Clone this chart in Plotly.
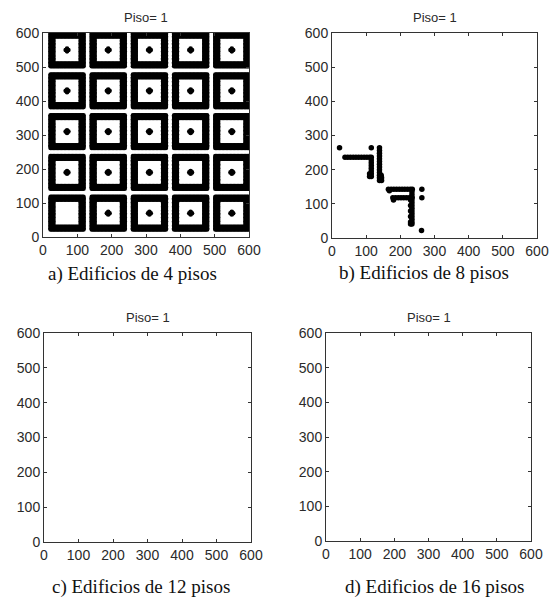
import numpy as np
import plotly.graph_objects as go

# ---------------- data ----------------
# Panel a) block (manzana) centres, ring extents and the lattice step of the dots
block_centers_x = [70, 190, 310, 430, 550]
block_centers_y = [70, 190, 310, 430, 550]
ring_outer = 48          # outer half-size of each block ring (data units)
ring_inner = 38          # inner half-size (points closer than this are empty)
lattice_step = 4
blocks_without_center = [(70, 70)]
center_dot_offsets = [(0, 0), (4, 0), (-4, 0), (0, 4), (0, -4)]

# Panel b) building points
b_x = [22, 115, 139,
       38, 46, 54, 62, 70, 78, 86, 94, 102, 110, 115,
       115, 115, 115, 115, 115, 115, 115, 110, 110,
       139, 139, 139, 139, 139, 139, 139, 139, 139, 139, 139, 139, 145, 145, 144,
       165, 173, 181, 189, 197, 205, 213, 221, 229, 235, 168,
       178, 186, 194, 202, 210, 218, 226, 234, 180,
       234, 234, 234, 234, 234, 234, 234, 234, 234, 234, 234, 234, 234,
       230, 230, 230, 230, 230, 230,
       263, 263, 262]
b_y = [264, 264, 264,
       236, 236, 236, 236, 236, 236, 236, 236, 236, 236, 236,
       228, 220, 212, 204, 196, 188, 180, 188, 180,
       256, 248, 240, 232, 224, 216, 208, 200, 192, 184, 176, 168, 176, 168, 184,
       143, 143, 143, 143, 143, 143, 143, 143, 143, 143, 138,
       118, 118, 118, 118, 118, 118, 118, 118, 111,
       135, 127, 119, 111, 103, 95, 87, 79, 71, 63, 55, 47, 41,
       111, 95, 79, 63, 47, 41,
       143, 118, 22]

panel_titles = ["Piso= 1", "Piso= 1", "Piso= 1", "Piso= 1"]
captions = ["a) Edificios de 4 pisos", "b) Edificios de 8 pisos",
            "c) Edificios de 12 pisos", "d) Edificios de 16 pisos"]
tick_vals = [0, 100, 200, 300, 400, 500, 600]
axis_range = [0, 600]

# ---------------- build panel a points ----------------
a_x, a_y = [], []
offs = np.arange(-ring_outer, ring_outer + 1, lattice_step)
for cx in block_centers_x:
    for cy in block_centers_y:
        for dx in offs:
            for dy in offs:
                if max(abs(dx), abs(dy)) >= ring_inner:
                    a_x.append(cx + dx)
                    a_y.append(cy + dy)
        if (cx, cy) not in blocks_without_center:
            for dx, dy in center_dot_offsets:
                a_x.append(cx + dx)
                a_y.append(cy + dy)

# ---------------- figure ----------------
W, H = 556, 599
fig = go.Figure()

# plot areas in page pixels (left, top, right, bottom)
areas = [(43, 33, 249, 237), (332, 33, 537, 238),
         (44, 333, 251, 542), (326, 333, 531, 541)]


def px_x(v):
    return v / W


def px_y(v):
    return 1 - v / H


marker = dict(color="black", size=4.6, symbol="circle", line=dict(width=0))
fig.add_trace(go.Scatter(x=a_x, y=a_y, mode="markers", marker=marker,
                         xaxis="x", yaxis="y", showlegend=False, hoverinfo="skip"))
fig.add_trace(go.Scatter(x=b_x, y=b_y, mode="markers",
                         marker=dict(color="black", size=5.5, line=dict(width=0)),
                         xaxis="x2", yaxis="y2", showlegend=False))
fig.add_trace(go.Scatter(x=[], y=[], mode="markers", xaxis="x3", yaxis="y3", showlegend=False))
fig.add_trace(go.Scatter(x=[], y=[], mode="markers", xaxis="x4", yaxis="y4", showlegend=False))

tick_font = dict(family="Liberation Sans, Arial", size=14, color="#2a2a2a")
layout = {}
annotations = []
for i, (l, t, r, b) in enumerate(areas):
    sfx = "" if i == 0 else str(i + 1)
    xd = [px_x(l), px_x(r)]
    yd = [px_y(b), px_y(t)]
    common = dict(range=axis_range, tickvals=tick_vals, ticks="inside", ticklen=3,
                  tickcolor="#333333", showline=True, linecolor="#333333", linewidth=1,
                  mirror="allticks", showgrid=False, zeroline=False, automargin=False,
                  ticklabeloverflow="allow", tickfont=tick_font, fixedrange=True)
    layout["xaxis" + sfx] = dict(domain=xd, anchor="y" + sfx, **common)
    layout["yaxis" + sfx] = dict(domain=yd, anchor="x" + sfx, **common)
    annotations.append(dict(text=panel_titles[i], x=px_x((l + r) / 2), y=px_y(t - 16),
                            xref="paper", yref="paper", showarrow=False,
                            xanchor="center", yanchor="middle",
                            font=dict(family="Liberation Sans, Arial", size=13, color="#2a2a2a")))
cap_pos = [(132, 274), (424, 273), (141, 587), (434, 587)]
for i, (px, py) in enumerate(cap_pos):
    annotations.append(dict(text=captions[i], x=px_x(px), y=px_y(py),
                            xref="paper", yref="paper", showarrow=False,
                            xanchor="center", yanchor="middle",
                            font=dict(family="Liberation Serif, Times New Roman", size=19,
                                      color="#111111")))

fig.update_layout(width=W, height=H, margin=dict(l=0, r=0, t=0, b=0, autoexpand=False),
                  paper_bgcolor="white", plot_bgcolor="white", hovermode=False,
                  annotations=annotations, **layout)
# remove the page's default body margin so the figure fills the window exactly
fig.write_html("out.html", config={"displayModeBar": False, "staticPlot": True},
               post_script="document.body.style.margin='0';document.documentElement.style.overflow='hidden';")
